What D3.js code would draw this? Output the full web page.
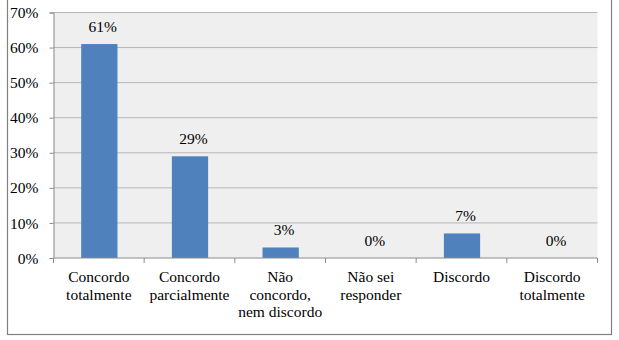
<!DOCTYPE html>
<html>
<head>
<meta charset="utf-8">
<script src="https://cdn.jsdelivr.net/npm/d3@7"></script>
<style>
  html, body { margin: 0; padding: 0; background: #ffffff; }
  svg { display: block; }
</style>
</head>
<body>
<svg id="chart" width="619" height="340"></svg>
<script>
// Survey answers and share of respondents
const categories = [
  ["Concordo", "totalmente"],
  ["Concordo", "parcialmente"],
  ["Não", "concordo,", "nem discordo"],
  ["Não sei", "responder"],
  ["Discordo"],
  ["Discordo", "totalmente"]
];
const values = [0.61, 0.29, 0.03, 0, 0.07, 0];
const valueLabels = ["61%", "29%", "3%", "0%", "7%", "0%"];
const yTicks = [0, 0.1, 0.2, 0.3, 0.4, 0.5, 0.6, 0.7];

const FONT = "'Liberation Serif', 'Times New Roman', Tinos, 'DejaVu Serif', serif";
const FS = 15.5;

const svg = d3.select("#chart").attr("font-family", FONT);
const plot = { left: 53.5, right: 597.5, top: 12.5, bottom: 258 };

// Outer chart frame (top edge sits above the visible area)
svg.append("rect")
  .attr("x", 7.5).attr("y", -10)
  .attr("width", 604).attr("height", 344.5)
  .attr("fill", "#fff")
  .attr("stroke", "#808080").attr("stroke-width", 1.2);

const idx = d3.range(categories.length);
const x = d3.scaleBand().domain(idx).range([plot.left, plot.right]);
const y = d3.scaleLinear().domain([0, 0.7]).range([plot.bottom, plot.top]);

// Plot area background
svg.append("rect")
  .attr("x", plot.left).attr("y", plot.top)
  .attr("width", plot.right - plot.left).attr("height", plot.bottom - plot.top)
  .attr("fill", "#efefef");

// Horizontal gridlines
svg.append("g")
  .selectAll("line")
  .data(yTicks.filter(t => t > 0))
  .join("line")
  .attr("x1", plot.left).attr("x2", plot.right)
  .attr("y1", d => y(d)).attr("y2", d => y(d))
  .attr("stroke", "#b7b7b7").attr("stroke-width", 1);

// Bars
const barW = x.bandwidth() * 0.4;
svg.append("g")
  .selectAll("rect")
  .data(idx)
  .join("rect")
  .attr("x", i => x(i) + (x.bandwidth() - barW) / 2 + 0.5)
  .attr("y", i => y(values[i]))
  .attr("width", barW)
  .attr("height", i => y(0) - y(values[i]))
  .attr("fill", "#4f81bd");

// Value labels above bars
svg.append("g")
  .selectAll("text")
  .data(idx)
  .join("text")
  .attr("x", i => x(i) + x.bandwidth() / 2 + 4)
  .attr("y", i => y(values[i]) - 12)
  .attr("text-anchor", "middle")
  .attr("font-family", FONT)
  .attr("font-size", FS)
  .attr("fill", "#000")
  .text(i => valueLabels[i]);

// Y axis
const yAxis = d3.axisLeft(y).tickValues(yTicks).tickFormat(d3.format(".0%")).tickSize(4).tickPadding(11);
const gy = svg.append("g").attr("transform", `translate(${plot.left},0)`).call(yAxis)
  .attr("font-family", FONT).attr("font-size", FS);
gy.select(".domain").attr("stroke", "#8c8c8c");
gy.selectAll(".tick line").attr("stroke", "#8c8c8c");
gy.selectAll(".tick text")
  .attr("font-family", FONT)
  .attr("font-size", FS)
  .attr("fill", "#000")
  .attr("dy", "0.33em");

// X axis with ticks at category boundaries
svg.append("line")
  .attr("x1", plot.left).attr("x2", plot.right)
  .attr("y1", plot.bottom).attr("y2", plot.bottom)
  .attr("stroke", "#8c8c8c");
const bounds = idx.map(i => x(i)).concat([plot.right]);
svg.append("g")
  .selectAll("line")
  .data(bounds)
  .join("line")
  .attr("x1", d => d).attr("x2", d => d)
  .attr("y1", plot.bottom).attr("y2", plot.bottom + 5)
  .attr("stroke", "#8c8c8c");

// Category labels (multi-line)
const cat = svg.append("g")
  .selectAll("text")
  .data(idx)
  .join("text")
  .attr("x", i => x(i) + x.bandwidth() / 2)
  .attr("y", 282)
  .attr("text-anchor", "middle")
  .attr("font-family", FONT)
  .attr("font-size", FS)
  .attr("fill", "#000");
cat.selectAll("tspan")
  .data(i => categories[i].map(s => ({ s, cx: x(i) + x.bandwidth() / 2 })))
  .join("tspan")
  .attr("x", d => d.cx)
  .attr("dy", (d, j) => j === 0 ? 0 : 17.6)
  .text(d => d.s);
</script>
</body>
</html>
